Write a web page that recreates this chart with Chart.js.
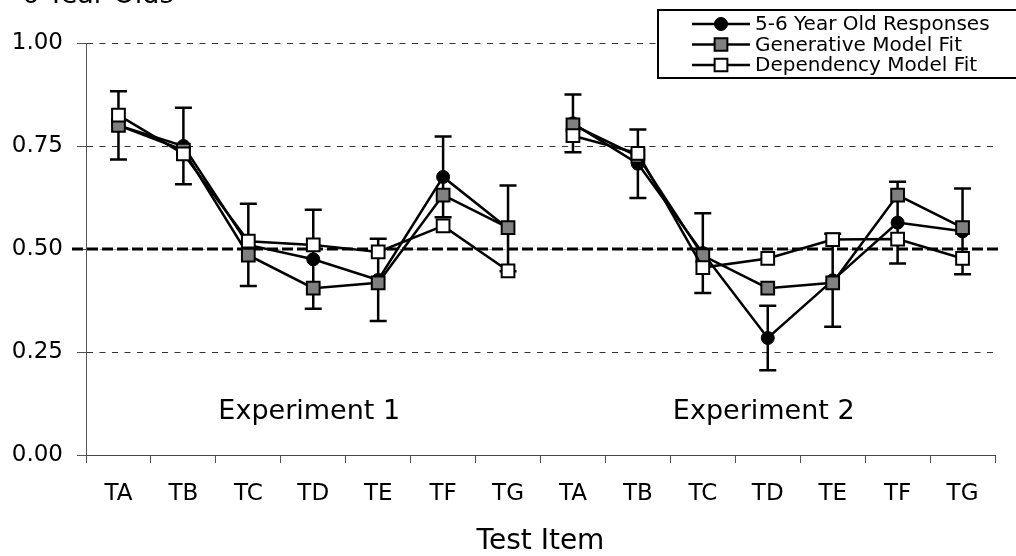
<!DOCTYPE html>
<html>
<head>
<meta charset="utf-8">
<title>Test Item</title>
<script src="https://cdn.jsdelivr.net/npm/chart.js@4.4.1/dist/chart.umd.min.js"></script>
<style>
	html, body { margin: 0; padding: 0; background: #fff; }
	#wrap { width: 1016px; height: 556px; position: relative; }
</style>
</head>
<body>
<div id="wrap"><canvas id="chart"></canvas></div>
<script>
'use strict';

var items = ['TA', 'TB', 'TC', 'TD', 'TE', 'TF', 'TG', 'TA', 'TB', 'TC', 'TD', 'TE', 'TF', 'TG'];
var experiments = ['Experiment 1', 'Experiment 2'];
var yTicks = [0, 0.25, 0.5, 0.75, 1];
var chance = 0.5;

// proportions, experiment 1 then experiment 2
var childResponses = [0.80, 0.75, 0.51, 0.475, 0.425, 0.675, 0.55, 0.805, 0.707, 0.49, 0.284, 0.424, 0.564, 0.543];
var childErrors = [0.083, 0.093, 0.10, 0.12, 0.10, 0.098, 0.104, 0.07, 0.083, 0.097, 0.078, 0.113, 0.099, 0.104];
var generativeFit = [0.80, 0.74, 0.485, 0.405, 0.418, 0.631, 0.552, 0.801, 0.725, 0.484, 0.405, 0.418, 0.631, 0.552];
var dependencyFit = [0.825, 0.731, 0.519, 0.510, 0.493, 0.556, 0.447, 0.775, 0.732, 0.455, 0.477, 0.523, 0.524, 0.477];

var FONT = '"DejaVu Sans", Verdana, sans-serif',
	perExperiment = 7,
	lineW = 2.5;

// no line between the last item of one experiment and the first of the next
function gapSegment(ctx) {
	return (ctx.p0DataIndex + 1) % perExperiment === 0 ? 'rgba(0,0,0,0)' : undefined;
}

function series(label, data, style, fill, radius, order) {
	return {
		label: label,
		data: data,
		order: order,
		borderColor: '#000',
		borderWidth: lineW,
		pointStyle: style,
		pointRadius: radius,
		pointHoverRadius: radius,
		pointBackgroundColor: fill,
		pointBorderColor: '#000',
		pointBorderWidth: style === 'circle' ? 1 : 2,
		segment: { borderColor: gapSegment }
	};
}

var errorBars = {
	id: 'errorBars',
	beforeDatasetsDraw: function (chart) {
		var ctx = chart.ctx,
			x = chart.scales.x,
			y = chart.scales.y,
			cy = y.getPixelForValue(chance);

		ctx.save();
		// chance level
		ctx.strokeStyle = '#000';
		ctx.lineWidth = 3;
		ctx.setLineDash([11, 4]);
		ctx.beginPath();
		ctx.moveTo(72, cy);
		ctx.lineTo(chart.chartArea.right + 4, cy);
		ctx.stroke();
		ctx.setLineDash([]);

		ctx.lineWidth = lineW;
		childResponses.forEach(function (v, i) {
			var px = x.getPixelForValue(i),
				top = y.getPixelForValue(v + childErrors[i]),
				bot = y.getPixelForValue(v - childErrors[i]);
			ctx.beginPath();
			ctx.moveTo(px, top);
			ctx.lineTo(px, bot);
			ctx.moveTo(px - 8.5, top);
			ctx.lineTo(px + 8.5, top);
			ctx.moveTo(px - 8.5, bot);
			ctx.lineTo(px + 8.5, bot);
			ctx.stroke();
		});
		ctx.restore();
	}
};

var annotations = {
	id: 'annotations',
	afterDraw: function (chart) {
		var ctx = chart.ctx,
			x = chart.scales.x,
			y = chart.scales.y;

		ctx.save();
		ctx.fillStyle = '#000';
		ctx.textBaseline = 'alphabetic';

		// title, mostly cut off at the top
		ctx.font = '27px ' + FONT;
		ctx.textAlign = 'left';
		ctx.fillText('6 Year Olds', 22, 3);

		ctx.textAlign = 'center';
		experiments.forEach(function (name, e) {
			var mid = (x.getPixelForValue(e * perExperiment) + x.getPixelForValue(e * perExperiment + perExperiment - 1)) / 2;
			ctx.fillText(name, mid - 4, y.getPixelForValue(0.087));
		});

		// legend
		ctx.fillStyle = '#fff';
		ctx.fillRect(658, 10, 370, 68);
		ctx.strokeStyle = '#000';
		ctx.lineWidth = 2;
		ctx.strokeRect(658, 10, 370, 68);

		ctx.font = '20px ' + FONT;
		ctx.textAlign = 'left';
		ctx.textBaseline = 'middle';
		chart.data.datasets.forEach(function (ds, i) {
			var ry = 24 + i * 20.5;
			ctx.strokeStyle = '#000';
			ctx.lineWidth = lineW;
			ctx.beginPath();
			ctx.moveTo(692, ry);
			ctx.lineTo(750, ry);
			ctx.stroke();
			ctx.fillStyle = ds.pointBackgroundColor;
			ctx.lineWidth = ds.pointBorderWidth;
			Chart.helpers.drawPoint(ctx, {
				pointStyle: ds.pointStyle,
				radius: ds.pointRadius,
				borderWidth: ds.pointBorderWidth,
				rotation: 0
			}, 721, ry);
			ctx.fillStyle = '#000';
			ctx.fillText(ds.label, 755, ry + 1);
		});
		ctx.restore();
	}
};

new Chart(document.getElementById('chart'), {
	type: 'line',
	data: {
		labels: items,
		datasets: [
			series('5-6 Year Old Responses', childResponses, 'circle', '#000', 6.5, 3),
			series('Generative Model Fit', generativeFit, 'rect', '#808080', 9, 2),
			series('Dependency Model Fit', dependencyFit, 'rect', '#fff', 9, 1)
		]
	},
	options: {
		responsive: true,
		maintainAspectRatio: false,
		animation: false,
		devicePixelRatio: 1,
		layout: { padding: { top: 43, right: 21, bottom: 0, left: 0 } },
		plugins: {
			legend: { display: false },
			tooltip: { enabled: false }
		},
		scales: {
			x: {
				offset: true,
				afterFit: function (scale) { scale.height = 101; },
				grid: {
					offset: true,
					drawOnChartArea: false,
					tickLength: 8,
					tickColor: '#555',
					tickWidth: 1
				},
				border: { color: '#444', width: 1 },
				ticks: {
					color: '#000',
					padding: 17,
					autoSkip: false,
					maxRotation: 0,
					font: { family: FONT, size: 23 }
				},
				title: {
					display: true,
					text: 'Test Item',
					color: '#000',
					padding: { top: 0, bottom: -3 },
					font: { family: FONT, size: 28 }
				}
			},
			y: {
				min: 0,
				max: 1,
				afterFit: function (scale) { scale.width = 86; },
				afterBuildTicks: function (scale) {
					scale.ticks = yTicks.map(function (v) { return { value: v }; });
				},
				grid: {
					color: function (c) {
						if (c.tick && c.tick.value === 0) return 'rgba(0,0,0,0)';
						if (c.tick && c.tick.value === chance) return '#b0b0b0';
						return '#333';
					},
					lineWidth: 1,
					tickLength: 9,
					tickColor: '#555',
					tickWidth: 1,
					tickBorderDash: []
				},
				border: { color: '#555', width: 1, dash: [6, 6.5] },
				ticks: {
					color: '#000',
					padding: 14,
					font: { family: FONT, size: 23 },
					callback: function (v) { return Number(v).toFixed(2); }
				}
			}
		}
	},
	plugins: [errorBars, annotations]
});
</script>
</body>
</html>
